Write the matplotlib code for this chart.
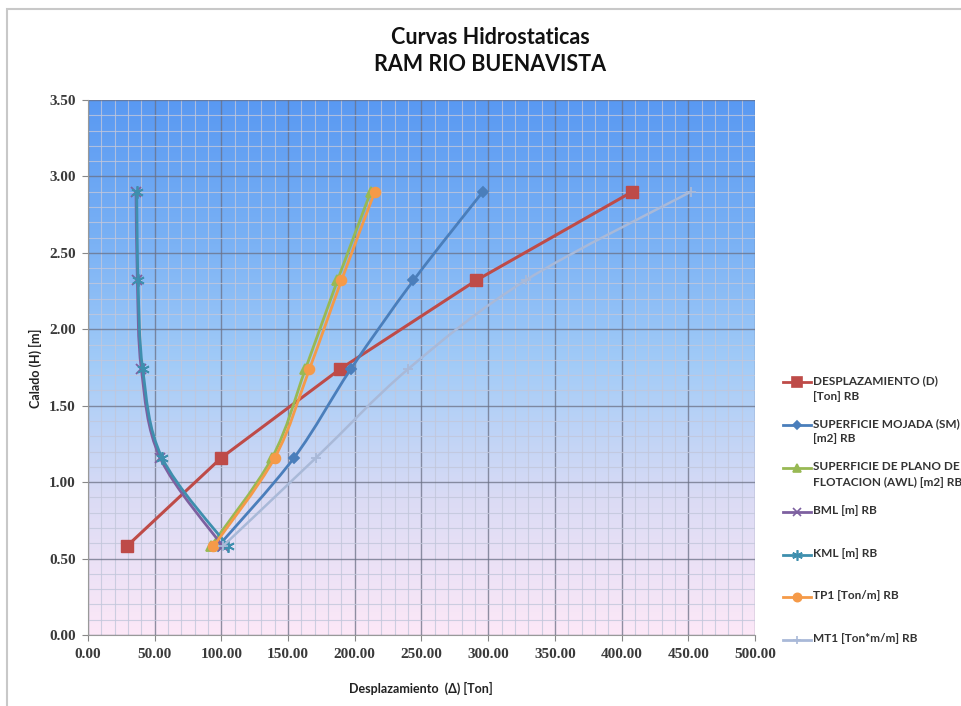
import numpy as np
import matplotlib
matplotlib.use("Agg")
import matplotlib.pyplot as plt
from matplotlib.path import Path
from matplotlib.patches import PathPatch, Rectangle
from matplotlib.lines import Line2D
from matplotlib.colors import LinearSegmentedColormap
from matplotlib.ticker import MultipleLocator, FormatStrFormatter

# ---------------- data ----------------
draft = [0.58, 1.16, 1.74, 2.32, 2.90]
desplazamiento = [29, 100, 189, 291, 408]
sup_mojada = [97.5, 154.5, 197, 244, 296]
sup_flotacion = [92, 138, 163, 187, 212]
bml = [101, 54, 40, 37, 36]
kml = [105, 55.5, 41, 37.5, 36.5]
tp1 = [94, 140, 166, 190, 215]
mt1 = [101, 171, 240, 328, 452]

labels = ["DESPLAZAMIENTO (D)\n[Ton] RB",
          "SUPERFICIE MOJADA (SM)\n[m2] RB",
          "SUPERFICIE DE PLANO DE\nFLOTACION (AWL) [m2] RB",
          "BML [m] RB",
          "KML [m] RB",
          "TP1 [Ton/m] RB",
          "MT1 [Ton*m/m] RB"]

title = "Curvas Hidrostaticas\nRAM RIO BUENAVISTA"
xlabel = "Desplazamiento  (\u0394) [Ton]"
ylabel = "Calado (H) [m]"

# ---------------- figure ----------------
W, H = 962, 706
fig = plt.figure(figsize=(W / 100, H / 100), dpi=100)
fig.patch.set_facecolor("white")
ax = fig.add_axes([88 / W, 1 - 635 / H, (755 - 88) / W, (635 - 100) / H])

ax.set_xlim(0, 500)
ax.set_ylim(0, 3.5)

# gradient background
cmap = LinearSegmentedColormap.from_list(
    "bg", [(0.0, (0.99, 0.91, 0.97)),
           (0.25, (0.86, 0.86, 0.96)),
           (0.5, (0.64, 0.80, 0.97)),
           (0.75, (0.47, 0.69, 0.96)),
           (1.0, (0.35, 0.60, 0.95))])
grad = np.linspace(0, 1, 256).reshape(-1, 1)
ax.imshow(grad, cmap=cmap, origin="lower", extent=[0, 500, 0, 3.5],
          aspect="auto", zorder=0)

# grid
ax.xaxis.set_major_locator(MultipleLocator(50))
ax.xaxis.set_minor_locator(MultipleLocator(10))
ax.yaxis.set_major_locator(MultipleLocator(0.5))
ax.yaxis.set_minor_locator(MultipleLocator(0.1))
ax.grid(which="major", color=(0.42, 0.44, 0.52), linewidth=1.0, alpha=0.75, zorder=1)
ax.grid(which="minor", color=(0.76, 0.78, 0.86), linewidth=0.8, alpha=0.8, zorder=1)
ax.set_axisbelow(True)
ax.xaxis.set_major_formatter(FormatStrFormatter("%.2f"))
ax.yaxis.set_major_formatter(FormatStrFormatter("%.2f"))
ax.tick_params(which="minor", length=0)
ax.tick_params(which="major", length=4, color="#888888", width=0.8,
               labelsize=11, labelcolor="#3a3a3a", pad=5)
for lab in ax.get_xticklabels() + ax.get_yticklabels():
    lab.set_fontfamily("Liberation Serif")
    lab.set_fontweight("bold")
for s in ["top", "right"]:
    ax.spines[s].set_visible(False)
for s in ["left", "bottom"]:
    ax.spines[s].set_color("#999999")
    ax.spines[s].set_linewidth(0.8)


def smooth_path(xs, ys):
    pts = np.column_stack([xs, ys]).astype(float)
    n = len(pts)
    verts = [pts[0]]
    codes = [Path.MOVETO]
    for i in range(n - 1):
        p0 = pts[i - 1] if i > 0 else pts[i]
        p1 = pts[i]
        p2 = pts[i + 1]
        p3 = pts[i + 2] if i + 2 < n else pts[i + 1]
        c1 = p1 + (p2 - p0) / 6.0
        c2 = p2 - (p3 - p1) / 6.0
        verts += [c1, c2, p2]
        codes += [Path.CURVE4] * 3
    return Path(verts, codes)


series = [
    (desplazamiento, "#BE4B48", "s", 8, False, 2.2),
    (sup_mojada, "#4A7EBB", "D", 5, True, 2.0),
    (sup_flotacion, "#98B954", "^", 7, True, 2.0),
    (bml, "#7D60A0", "x", 7, True, 2.0),
    (kml, "#3E8FAE", (6, 2, 0), 9, True, 2.0),
    (tp1, "#F59A48", "o", 7, True, 2.0),
    (mt1, "#A9B9D8", "+", 7, True, 1.8),
]

for k, (vals, col, mk, ms, smooth, lw) in enumerate(series):
    z = 3 + k * 0.1
    if smooth:
        ax.add_patch(PathPatch(smooth_path(vals, draft), facecolor="none",
                               edgecolor=col, linewidth=lw, zorder=z,
                               capstyle="round", joinstyle="round"))
        ax.plot(vals, draft, linestyle="none", marker=mk, markersize=ms,
                color=col, markeredgecolor=col, markeredgewidth=1.3, zorder=z + 0.05)
    else:
        ax.plot(vals, draft, linestyle="-", linewidth=lw, marker=mk, markersize=ms,
                color=col, markeredgecolor=col, zorder=z)

# labels / title
fig.text(490 / W, 1 - 51 / H, title, ha="center", va="center", fontsize=15.5,
         fontfamily="Lato", fontweight="bold", color="#111111", linespacing=1.4)
fig.text(421 / W, 1 - 688 / H, xlabel, ha="center", va="center", fontsize=9,
         fontfamily="Lato", fontweight="bold", color="#222222")
fig.text(35 / W, 1 - 368 / H, ylabel, ha="center", va="center", fontsize=9,
         fontfamily="Lato", fontweight="bold", color="#222222", rotation=90)

# manual legend (outside right)
leg_y = [382, 425, 468, 512, 555, 597, 640]
for (vals, col, mk, ms, smooth, lw), lab, yy in zip(series, labels, leg_y):
    yf = 1 - yy / H
    fig.add_artist(Line2D([783 / W, 811 / W], [yf, yf], transform=fig.transFigure,
                          color=col, linewidth=2, marker=None))
    fig.add_artist(Line2D([797 / W], [yf], transform=fig.transFigure, color=col,
                          marker=mk, markersize=ms * 0.85, markeredgecolor=col,
                          markeredgewidth=1.2, linestyle="none"))
    fig.text(813 / W, yf + 7 / H, lab, ha="left", va="top", fontsize=8.5,
             fontfamily="Lato", fontweight="bold", color="#333333", linespacing=1.5)

# chart border
fig.add_artist(Rectangle((7 / W, -0.05), 1.2, 1 - 9 / H + 0.05,
                         transform=fig.transFigure, fill=False,
                         edgecolor="#c8c8c8", linewidth=1.5))

fig.savefig("out.png", dpi=100)
